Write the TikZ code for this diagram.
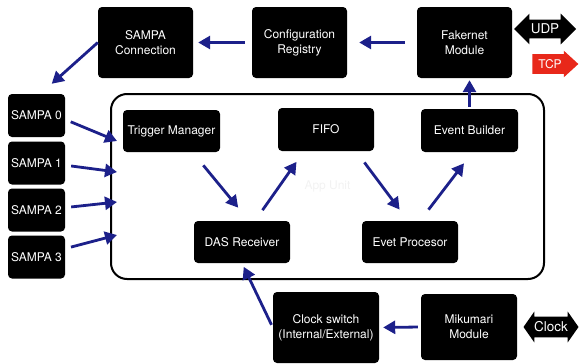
\documentclass[tikz,border=0pt]{standalone}
\usepackage{fontspec}
\setmainfont{TeX Gyre Heros}
\usepackage{tikz}
\usetikzlibrary{arrows.meta}
\usetikzlibrary{shapes.arrows}
\definecolor{flowblue}{RGB}{28,32,138}
\definecolor{tcpred}{RGB}{232,40,26}

\begin{document}
\begin{tikzpicture}[x=1pt, y=-1pt,
    font=\fontsize{12}{15}\selectfont,
    blk/.style={fill=black, text=white, rounded corners=4pt, align=center, inner sep=1pt},
    flow/.style={draw=flowblue, line width=2.8pt, -{Triangle[length=12pt,width=13pt]}},
    tag/.style={text=white, inner xsep=1pt, font=\fontsize{13.5}{15}\selectfont}]
  \useasboundingbox (0,0) rectangle (579,364);

  % App unit frame
  \node[draw, line width=2pt, rounded corners=16pt, minimum width=433pt, minimum height=185pt,
        text=black!5] (app) at (327.5,186.5) {App Unit};

  % Top row
  \node[blk, minimum width=95pt, minimum height=71pt] (sconn) at (145.5,42.5) {SAMPA\\Connection};
  \node[blk, minimum width=95pt, minimum height=71pt] (conf)  at (299.5,42.5) {Configuration\\Registry};
  \node[blk, minimum width=95pt, minimum height=71pt] (fake)  at (464.5,42.5) {Fakernet\\Module};
  \node[tag, double arrow, fill=black, minimum height=62pt, inner ysep=4.2pt,
        double arrow head extend=6pt] (udp) at (545,29) {UDP};
  \node[tag, single arrow, fill=tcpred, minimum height=46pt, inner ysep=5pt,
        single arrow head extend=3.5pt, single arrow tip angle=85,
        font=\fontsize{12}{14}\selectfont] (tcp) at (550,64) {TCP};

  % SAMPA inputs
  \foreach \i/\y/\ty/\dy in {0/115.5/141/-4, 1/163/172/-2.2, 2/210/202/2.4, 3/257/235/8.4} {
    \node[blk, minimum width=57pt, minimum height=43pt] (sampa\i) at (36.5,\y) {SAMPA \i};
    \coordinate (in\i) at (117,\ty);
    \draw[flow, shorten <=6pt] ([yshift=\dy pt]sampa\i.east) -- (in\i);
  }

  % Inside the app unit
  \node[blk, minimum width=97pt, minimum height=42pt] (trig) at (171.5,131)  {Trigger Manager};
  \node[blk, minimum width=96pt, minimum height=43pt] (fifo) at (326,129.5)  {FIFO};
  \node[blk, minimum width=97pt, minimum height=43pt] (eb)   at (469.5,130.5) {Event Builder};
  \node[blk, minimum width=96pt, minimum height=42pt] (das)  at (242,242)    {DAS Receiver};
  \node[blk, minimum width=96pt, minimum height=42pt] (evet) at (410,242)    {Evet Procesor};

  % Bottom row
  \node[blk, minimum width=106pt, minimum height=71pt] (cs)  at (326,327.5) {Clock switch\\(Internal/External)};
  \node[blk, minimum width=96pt, minimum height=66pt] (miku) at (469,327)   {Mikumari\\Module};
  \node[tag, double arrow, fill=black, minimum height=55pt, inner ysep=5pt, inner xsep=0pt,
        double arrow head extend=5pt, double arrow tip angle=110] (clk) at (551,327) {Clock};

  % Connectors
  \draw[flow, shorten <=7pt, shorten >=5pt] (conf) -- (sconn);
  \draw[flow, shorten <=12pt, shorten >=12pt] (fake) -- (conf);
  \draw[flow, shorten >=15pt] (sconn.west) -- ([xshift=4pt]sampa0.north);
  \draw[flow, shorten <=17pt, shorten >=17pt] ([xshift=21pt]trig.south) -- ([xshift=7pt]das.north);
  \draw[flow, shorten <=13pt, shorten >=13pt] ([xshift=13pt]das.north) -- ([xshift=-22pt]fifo.south);
  \draw[flow, shorten <=14pt, shorten >=14pt] ([xshift=30pt]fifo.south) -- ([xshift=-2pt]evet.north);
  \draw[flow, shorten <=14pt, shorten >=14pt] ([xshift=10pt]evet.north) -- ([xshift=3pt]eb.south);
  \draw[flow, shorten <=2pt, shorten >=2pt] (eb.north) -- (eb.north |- fake.south);
  \draw[flow, shorten <=3pt, shorten >=4pt] (miku.west) -- (cs.east);
  \draw[flow, shorten <=3pt, shorten >=4pt] (cs.west) -- (das.south);

\end{tikzpicture}
\end{document}
